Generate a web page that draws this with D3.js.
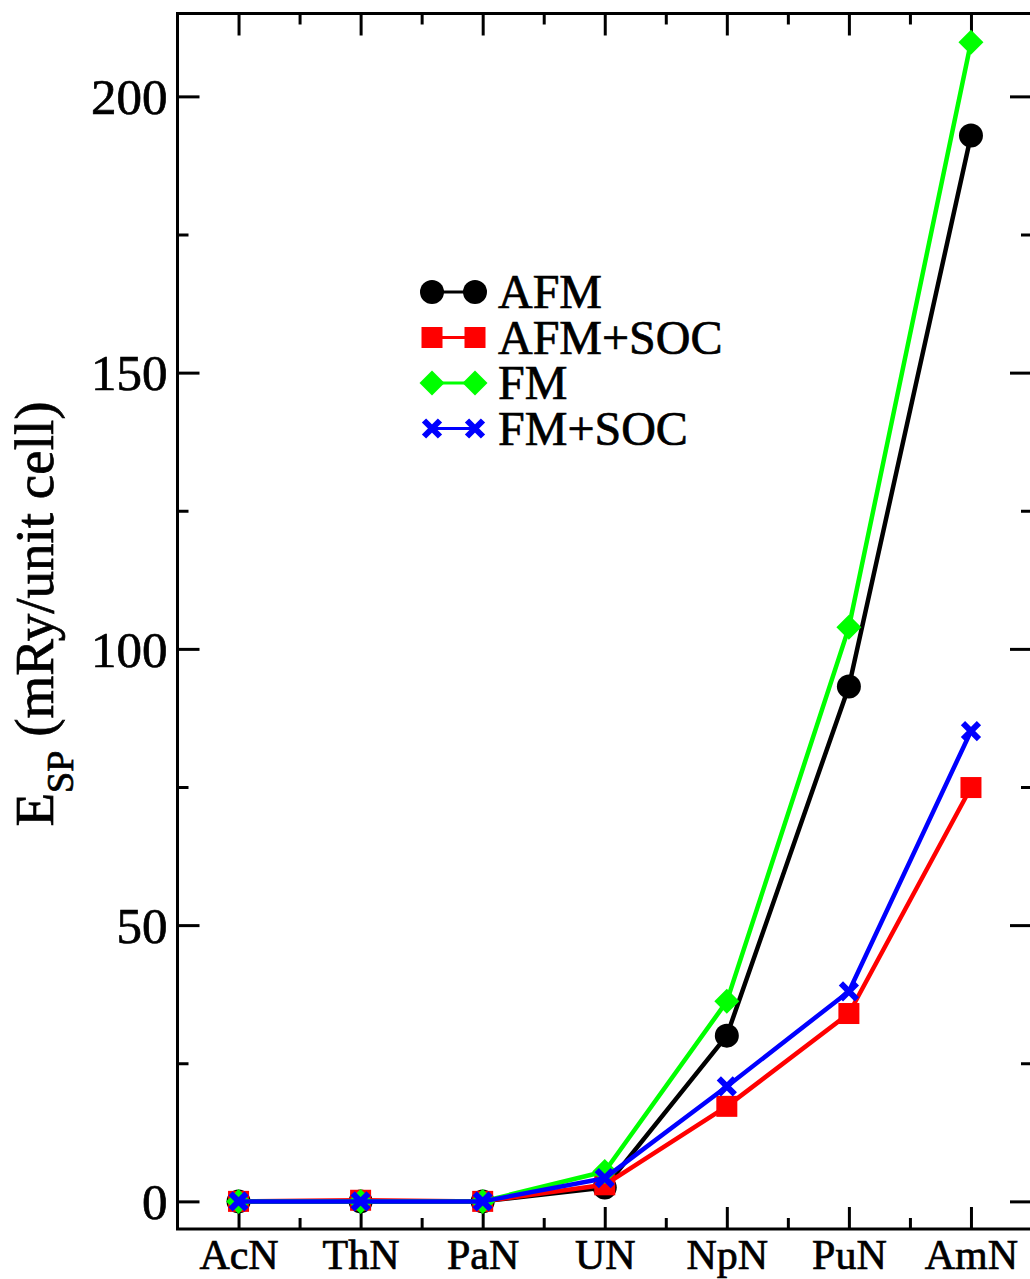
<!DOCTYPE html>
<html>
<head>
<meta charset="utf-8">
<script src="https://cdn.jsdelivr.net/npm/d3@7"></script>
<style>
  html, body { margin: 0; padding: 0; background: #fff; }
  svg { display: block; }
  text { font-family: "Liberation Serif", "Times New Roman", serif; fill: #000; stroke: #000; stroke-width: 0.7px; }
</style>
</head>
<body>
<svg id="chart" width="1030" height="1279"></svg>
<script>
// ---- data ----
const categories = ["AcN", "ThN", "PaN", "UN", "NpN", "PuN", "AmN"];
const afm      = [0, 0, 0, 2.5, 30.0, 93.2, 192.9];
const afmSoc   = [0, 0.2, 0, 3.0, 17.2, 34.0, 74.9];
const fm       = [0, 0, 0, 5.4, 36.2, 103.9, 209.8];
const fmSoc    = [0, 0, 0, 4.2, 20.8, 38.0, 85.1];
const seriesNames = ["AFM", "AFM+SOC", "FM", "FM+SOC"];
const yMajorTicks = [0, 50, 100, 150, 200];
const yMinorTicks = [25, 75, 125, 175];

const series = [
  { name: seriesNames[0], values: afm,    color: "#000000", marker: "circle" },
  { name: seriesNames[1], values: afmSoc, color: "#ff0000", marker: "square" },
  { name: seriesNames[2], values: fm,     color: "#00ff00", marker: "diamond" },
  { name: seriesNames[3], values: fmSoc,  color: "#0000ff", marker: "cross" }
];

// ---- layout ----
const L = 177.5, R = 1032, T = 13.5, B = 1229;
const svg = d3.select("#chart");
const x = d3.scaleLinear().domain([-0.5, categories.length - 0.5]).range([L, R]);
const y = d3.scaleLinear().domain([-5, 215]).range([B, T]);

const major = 22, minor = 11;

// ---- frame ----
svg.append("rect").attr("x", L).attr("y", T).attr("width", R - L).attr("height", B - T)
  .attr("fill", "none").attr("stroke", "#000").attr("stroke-width", 3);

// ---- axes (ticks inward, on all four sides) ----
const xMinor = d3.range(categories.length - 1).map(i => i + 0.5);
const axB = svg.append("g").attr("transform", `translate(0,${B})`)
  .call(d3.axisBottom(x).tickValues(d3.range(categories.length)).tickSizeInner(-major).tickSizeOuter(0)
    .tickFormat(i => categories[i]).tickPadding(10));
axB.select(".domain").remove();
axB.selectAll("line").attr("stroke-width", 3);
axB.selectAll("text").style("font-size", "42px").attr("font-family", "Liberation Serif");

const axBm = svg.append("g").attr("transform", `translate(0,${B})`)
  .call(d3.axisBottom(x).tickValues(xMinor).tickSizeInner(-minor).tickSizeOuter(0).tickFormat(""));
axBm.select(".domain").remove();
axBm.selectAll("line").attr("stroke-width", 3);

const axT = svg.append("g").attr("transform", `translate(0,${T})`)
  .call(d3.axisTop(x).tickValues(d3.range(categories.length)).tickSizeInner(-major).tickSizeOuter(0).tickFormat(""));
axT.select(".domain").remove();
axT.selectAll("line").attr("stroke-width", 3);
const axTm = svg.append("g").attr("transform", `translate(0,${T})`)
  .call(d3.axisTop(x).tickValues(xMinor).tickSizeInner(-minor).tickSizeOuter(0).tickFormat(""));
axTm.select(".domain").remove();
axTm.selectAll("line").attr("stroke-width", 3);

const axL = svg.append("g").attr("transform", `translate(${L},0)`)
  .call(d3.axisLeft(y).tickValues(yMajorTicks).tickSizeInner(-major).tickSizeOuter(0).tickPadding(10));
axL.select(".domain").remove();
axL.selectAll("line").attr("stroke-width", 3);
axL.selectAll("text").style("font-size", "51px").attr("font-family", "Liberation Serif").attr("dy", "0.34em");
const axLm = svg.append("g").attr("transform", `translate(${L},0)`)
  .call(d3.axisLeft(y).tickValues(yMinorTicks).tickSizeInner(-minor).tickSizeOuter(0).tickFormat(""));
axLm.select(".domain").remove();
axLm.selectAll("line").attr("stroke-width", 3);

const axR = svg.append("g").attr("transform", `translate(${R},0)`)
  .call(d3.axisRight(y).tickValues(yMajorTicks).tickSizeInner(-major).tickSizeOuter(0).tickFormat(""));
axR.select(".domain").remove();
axR.selectAll("line").attr("stroke-width", 3);
const axRm = svg.append("g").attr("transform", `translate(${R},0)`)
  .call(d3.axisRight(y).tickValues(yMinorTicks).tickSizeInner(-minor).tickSizeOuter(0).tickFormat(""));
axRm.select(".domain").remove();
axRm.selectAll("line").attr("stroke-width", 3);

// ---- y label ----
const yl = svg.append("text").attr("transform", "translate(53,614) rotate(-90)")
  .attr("text-anchor", "middle").style("font-size", "55px");
yl.append("tspan").text("E");
yl.append("tspan").text("SP").style("font-size", "38px").attr("dy", 20);
yl.append("tspan").text(" (mRy/unit cell)").attr("dy", -20);

// ---- markers ----
function drawMarker(g, type, cx, cy, color) {
  if (type === "circle") {
    g.append("circle").attr("cx", cx).attr("cy", cy).attr("r", 12).attr("fill", color);
  } else if (type === "square") {
    g.append("rect").attr("x", cx - 10.5).attr("y", cy - 10.5).attr("width", 21).attr("height", 21).attr("fill", color);
  } else if (type === "diamond") {
    const s = 12.5;
    g.append("path").attr("d", `M${cx},${cy - s}L${cx + s},${cy}L${cx},${cy + s}L${cx - s},${cy}Z`).attr("fill", color);
  } else if (type === "cross") {
    const s = 8;
    g.append("path").attr("d", `M${cx - s},${cy - s}L${cx + s},${cy + s}M${cx - s},${cy + s}L${cx + s},${cy - s}`)
      .attr("stroke", color).attr("stroke-width", 6).attr("fill", "none");
  }
}

// ---- series ----
const line = d3.line().x((d, i) => x(i)).y(d => y(d));
series.forEach(s => {
  const g = svg.append("g");
  g.append("path").datum(s.values).attr("d", line).attr("fill", "none")
    .attr("stroke", s.color).attr("stroke-width", 4.5).attr("stroke-linejoin", "round");
  s.values.forEach((v, i) => drawMarker(g, s.marker, x(i), y(v), s.color));
});

// ---- legend ----
const legX1 = 432, legX2 = 475, legText = 498, legY0 = 292, legDy = 45.5;
series.forEach((s, k) => {
  const g = svg.append("g");
  const cy = legY0 + k * legDy;
  g.append("line").attr("x1", legX1).attr("x2", legX2).attr("y1", cy).attr("y2", cy)
    .attr("stroke", s.color).attr("stroke-width", 3);
  drawMarker(g, s.marker, legX1, cy, s.color);
  drawMarker(g, s.marker, legX2, cy, s.color);
  g.append("text").attr("x", legText).attr("y", cy + 16).style("font-size", "48px").text(s.name);
});
</script>
</body>
</html>
